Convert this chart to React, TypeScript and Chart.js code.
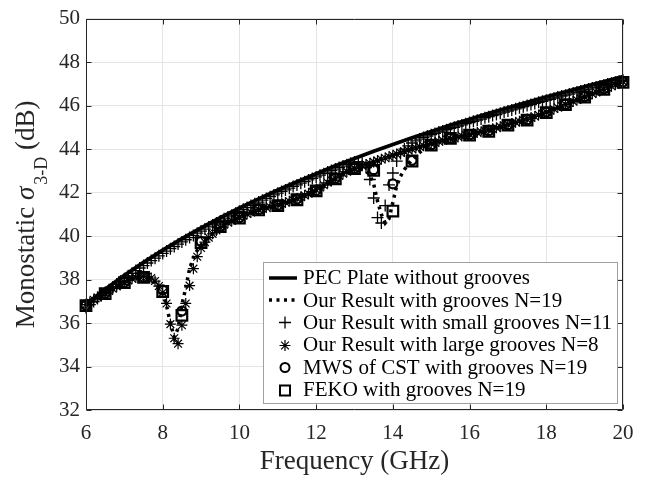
import React, { useEffect, useRef } from 'react';
import { Chart, registerables } from 'chart.js';

Chart.register(...registerables);

// ---------- data ----------
const freqCoarse = [6, 6.5, 7, 7.5, 8, 8.5, 9, 9.5, 10, 10.5, 11, 11.5, 12, 12.5, 13, 13.5, 14, 14.5, 15, 15.5, 16, 16.5, 17, 17.5, 18, 18.5, 19, 19.5, 20];

const pecPlate = [36.85, 37.55, 38.19, 38.79, 39.35, 39.88, 40.37, 40.84, 41.29, 41.71, 42.12, 42.5, 42.87, 43.23, 43.57, 43.9, 44.21, 44.52, 44.81, 45.1, 45.37, 45.64, 45.9, 46.15, 46.4, 46.63, 46.87, 47.1, 47.33];

const cstGrooves19 = [36.82, 37.37, 37.88, 38.12, 37.52, 36.55, 39.75, 40.45, 40.85, 41.22, 41.42, 41.7, 42.1, 42.66, 43.12, 43.05, 42.4, 43.48, 44.2, 44.5, 44.66, 44.84, 45.12, 45.35, 45.7, 46.06, 46.41, 46.77, 47.09];

const fekoGrooves19 = [36.8, 37.35, 37.86, 38.1, 37.45, 36.35, 39.7, 40.43, 40.83, 41.2, 41.4, 41.67, 42.08, 42.63, 43.1, 43.02, 41.15, 43.45, 44.18, 44.49, 44.64, 44.82, 45.1, 45.33, 45.68, 46.04, 46.39, 46.75, 47.07];

const freqFine = [
  6.0, 6.1, 6.2, 6.3, 6.4, 6.5, 6.6, 6.7, 6.8, 6.9,
  7.0, 7.1, 7.2, 7.3, 7.4, 7.5, 7.6, 7.7, 7.8, 7.9,
  8.0, 8.1, 8.2, 8.3, 8.4, 8.5, 8.6, 8.7, 8.8, 8.9,
  9.0, 9.1, 9.2, 9.3, 9.4, 9.5, 9.6, 9.7, 9.8, 9.9,
  10.0, 10.1, 10.2, 10.3, 10.4, 10.5, 10.6, 10.7, 10.8, 10.9,
  11.0, 11.1, 11.2, 11.3, 11.4, 11.5, 11.6, 11.7, 11.8, 11.9,
  12.0, 12.1, 12.2, 12.3, 12.4, 12.5, 12.6, 12.7, 12.8, 12.9,
  13.0, 13.1, 13.2, 13.3, 13.4, 13.5, 13.6, 13.7, 13.8, 13.9,
  14.0, 14.1, 14.2, 14.3, 14.4, 14.5, 14.6, 14.7, 14.8, 14.9,
  15.0, 15.1, 15.2, 15.3, 15.4, 15.5, 15.6, 15.7, 15.8, 15.9,
  16.0, 16.1, 16.2, 16.3, 16.4, 16.5, 16.6, 16.7, 16.8, 16.9,
  17.0, 17.1, 17.2, 17.3, 17.4, 17.5, 17.6, 17.7, 17.8, 17.9,
  18.0, 18.1, 18.2, 18.3, 18.4, 18.5, 18.6, 18.7, 18.8, 18.9,
  19.0, 19.1, 19.2, 19.3, 19.4, 19.5, 19.6, 19.7, 19.8, 19.9,
  20.0,
];

const ourGrooves19 = [
  36.8, 36.92, 37.03, 37.14, 37.25, 37.35, 37.45, 37.55, 37.66, 37.76,
  37.86, 37.94, 38.01, 38.07, 38.1, 38.1, 38.06, 37.98, 37.85, 37.68,
  37.45, 36.8, 36.0, 35.35, 35.75, 36.85, 37.6, 38.5, 39.0, 39.35,
  39.6, 39.8, 39.97, 40.12, 40.28, 40.42, 40.52, 40.6, 40.68, 40.76,
  40.83, 40.91, 40.99, 41.07, 41.14, 41.2, 41.24, 41.28, 41.32, 41.36,
  41.4, 41.45, 41.5, 41.56, 41.61, 41.67, 41.74, 41.82, 41.9, 41.99,
  42.08, 42.19, 42.3, 42.41, 42.52, 42.63, 42.74, 42.85, 42.95, 43.03,
  43.08, 43.1, 43.08, 43.0, 42.8, 42.4, 41.6, 41.0, 40.6, 40.8,
  41.55, 42.3, 42.75, 43.05, 43.3, 43.5, 43.68, 43.85, 43.98, 44.1,
  44.2, 44.27, 44.33, 44.39, 44.44, 44.48, 44.51, 44.54, 44.57, 44.6,
  44.63, 44.66, 44.7, 44.74, 44.78, 44.82, 44.87, 44.93, 44.98, 45.04,
  45.09, 45.14, 45.18, 45.23, 45.28, 45.33, 45.4, 45.47, 45.54, 45.61,
  45.68, 45.75, 45.82, 45.9, 45.97, 46.04, 46.11, 46.18, 46.25, 46.32,
  46.39, 46.46, 46.53, 46.6, 46.68, 46.75, 46.82, 46.88, 46.95, 47.01,
  47.07,
];

const smallGrooves11 = [
  36.7, 36.85, 36.99, 37.13, 37.26, 37.4, 37.53, 37.66, 37.79, 37.92,
  38.04, 38.17, 38.29, 38.41, 38.53, 38.64, 38.76, 38.87, 38.98, 39.09,
  39.2, 39.31, 39.42, 39.52, 39.63, 39.73, 39.83, 39.93, 40.03, 40.13,
  40.23, 40.32, 40.42, 40.51, 40.6, 40.69, 40.79, 40.88, 40.96, 41.05,
  41.14, 41.23, 41.31, 41.4, 41.48, 41.56, 41.65, 41.73, 41.81, 41.89,
  41.97, 42.05, 42.12, 42.2, 42.28, 42.35, 42.43, 42.5, 42.58, 42.65,
  42.72, 42.8, 42.87, 42.94, 43.01, 43.08, 43.15, 43.22, 43.28, 43.35,
  43.4, 43.42, 43.35, 43.15, 42.6, 41.75, 40.85, 40.6, 41.4, 42.35,
  42.9, 43.45, 43.8, 44.0, 44.15, 44.28, 44.38, 44.46, 44.53, 44.6,
  44.66, 44.72, 44.78, 44.83, 44.89, 44.95, 45.0, 45.06, 45.11, 45.17,
  45.22, 45.28, 45.33, 45.38, 45.44, 45.49, 45.54, 45.59, 45.65, 45.7,
  45.75, 45.8, 45.85, 45.9, 45.95, 46.0, 46.05, 46.1, 46.15, 46.2,
  46.25, 46.29, 46.34, 46.39, 46.44, 46.48, 46.53, 46.58, 46.62, 46.67,
  46.72, 46.76, 46.81, 46.85, 46.9, 46.94, 46.99, 47.03, 47.07, 47.12,
  47.16,
];

const largeGrooves8 = [
  36.85, 36.96, 37.07, 37.18, 37.28, 37.38, 37.48, 37.58, 37.68, 37.78,
  37.87, 37.96, 38.04, 38.1, 38.14, 38.15, 38.13, 38.07, 37.93, 37.7,
  37.4, 36.9, 35.95, 35.3, 35.05, 35.9, 36.9, 37.72, 38.5, 39.05,
  39.45, 39.72, 39.93, 40.1, 40.26, 40.4, 40.52, 40.62, 40.7, 40.78,
  40.86, 40.94, 41.02, 41.09, 41.16, 41.22, 41.27, 41.31, 41.35, 41.4,
  41.44, 41.49, 41.54, 41.6, 41.66, 41.72, 41.79, 41.87, 41.95, 42.04,
  42.13, 42.23, 42.34, 42.45, 42.56, 42.67, 42.77, 42.87, 42.96, 43.04,
  43.11, 43.17, 43.23, 43.29, 43.35, 43.41, 43.47, 43.53, 43.59, 43.65,
  43.71, 43.77, 43.83, 43.89, 43.95, 44.0, 44.05, 44.1, 44.15, 44.2,
  44.25, 44.3, 44.35, 44.4, 44.44, 44.48, 44.52, 44.56, 44.6, 44.64,
  44.68, 44.72, 44.76, 44.8, 44.84, 44.88, 44.93, 44.98, 45.03, 45.08,
  45.13, 45.18, 45.23, 45.28, 45.33, 45.38, 45.44, 45.5, 45.57, 45.63,
  45.7, 45.77, 45.84, 45.91, 45.98, 46.05, 46.12, 46.19, 46.26, 46.33,
  46.4, 46.47, 46.54, 46.61, 46.68, 46.75, 46.82, 46.89, 46.96, 47.03,
  47.1,
];

const xTickValues = [6, 8, 10, 12, 14, 16, 18, 20];
const yTickValues = [32, 34, 36, 38, 40, 42, 44, 46, 48, 50];

const legendLabels = [
  'PEC Plate without grooves',
  'Our Result with grooves N=19',
  'Our Result with small grooves N=11',
  'Our Result with large grooves N=8',
  'MWS of CST with grooves N=19',
  'FEKO with grooves N=19',
];

const xTitle = 'Frequency (GHz)';
const yTitleMain = 'Monostatic ';
const yTitleSymbol = 'σ';
const yTitleSub = '3-D';
const yTitleUnit = ' (dB)';

// ---------- style ----------
const SERIF = "'Liberation Serif', 'Times New Roman', serif";
const TEXT = '#262626';
const GRID = '#e4e4e4';

const pts = (xs: number[], ys: number[]) => xs.map((x, i) => ({ x, y: ys[i] }));

function drawMarker(ctx: CanvasRenderingContext2D, kind: string, x: number, y: number) {
  ctx.save();
  ctx.strokeStyle = '#000';
  ctx.setLineDash([]);
  ctx.beginPath();
  if (kind === 'plus') {
    ctx.lineWidth = 1.3;
    ctx.moveTo(x - 6, y); ctx.lineTo(x + 6, y);
    ctx.moveTo(x, y - 6); ctx.lineTo(x, y + 6);
  } else if (kind === 'star') {
    ctx.lineWidth = 1.2;
    const r = 5.5, d = r * Math.SQRT1_2;
    ctx.moveTo(x - r, y); ctx.lineTo(x + r, y);
    ctx.moveTo(x, y - r); ctx.lineTo(x, y + r);
    ctx.moveTo(x - d, y - d); ctx.lineTo(x + d, y + d);
    ctx.moveTo(x - d, y + d); ctx.lineTo(x + d, y - d);
  } else if (kind === 'circle') {
    ctx.lineWidth = 2;
    ctx.arc(x, y, 4.5, 0, Math.PI * 2);
  } else if (kind === 'square') {
    ctx.lineWidth = 2;
    ctx.rect(x - 5, y - 5, 10, 10);
  }
  ctx.stroke();
  ctx.restore();
}

const decorPlugin = {
  id: 'decor',
  afterDraw(chart: any) {
    const { ctx, chartArea: a, scales } = chart;
    ctx.save();
    // frame
    const L = Math.round(a.left) + 0.5, R = Math.round(a.right) - 0.5;
    const T = Math.round(a.top) + 0.5, B = Math.round(a.bottom) - 0.5;
    ctx.strokeStyle = TEXT;
    ctx.lineWidth = 1;
    ctx.setLineDash([]);
    ctx.beginPath();
    ctx.rect(L, T, R - L, B - T);
    const tl = 5;
    for (const v of xTickValues) {
      const px = Math.round(scales.x.getPixelForValue(v)) + 0.5;
      ctx.moveTo(px, B); ctx.lineTo(px, B - tl);
      ctx.moveTo(px, T); ctx.lineTo(px, T + tl);
    }
    for (const v of yTickValues) {
      const py = Math.round(scales.y.getPixelForValue(v)) + 0.5;
      ctx.moveTo(L, py); ctx.lineTo(L + tl, py);
      ctx.moveTo(R, py); ctx.lineTo(R - tl, py);
    }
    ctx.stroke();

    // x title
    ctx.fillStyle = TEXT;
    ctx.font = `27px ${SERIF}`;
    ctx.textAlign = 'center';
    ctx.textBaseline = 'middle';
    ctx.fillText(xTitle, (a.left + a.right) / 2, 462);

    // y title (rotated, with subscript)
    const mainFont = `27px ${SERIF}`;
    const symFont = `italic 27px ${SERIF}`;
    const subFont = `18px ${SERIF}`;
    ctx.font = mainFont; const w1 = ctx.measureText(yTitleMain).width;
    ctx.font = symFont; const w2 = ctx.measureText(yTitleSymbol).width;
    ctx.font = subFont; const w3 = ctx.measureText(yTitleSub).width;
    ctx.font = mainFont; const w4 = ctx.measureText(yTitleUnit).width;
    const gap = 2;
    const total = w1 + w2 + gap + w3 + w4;
    ctx.save();
    ctx.translate(33.5, (a.top + a.bottom) / 2);
    ctx.rotate(-Math.PI / 2);
    ctx.textAlign = 'left';
    ctx.textBaseline = 'alphabetic';
    let cx = -total / 2;
    ctx.font = mainFont; ctx.fillText(yTitleMain, cx, 0); cx += w1;
    ctx.font = symFont; ctx.fillText(yTitleSymbol, cx, 0); cx += w2 + gap;
    ctx.font = subFont; ctx.fillText(yTitleSub, cx, 13); cx += w3;
    ctx.font = mainFont; ctx.fillText(yTitleUnit, cx, 0);
    ctx.restore();

    // legend
    const lx = 263.5, ly = 262.5, lw = 354, lh = 141;
    ctx.fillStyle = '#fff';
    ctx.fillRect(lx, ly, lw, lh);
    ctx.strokeStyle = '#a0a0a0';
    ctx.lineWidth = 1;
    ctx.strokeRect(lx, ly, lw, lh);
    const kinds = ['solid', 'dotted', 'plus', 'star', 'circle', 'square'];
    ctx.font = `21px ${SERIF}`;
    ctx.textAlign = 'left';
    ctx.textBaseline = 'middle';
    legendLabels.forEach((label, i) => {
      const cy = 277.6 + i * 22.4;
      const k = kinds[i];
      if (k === 'solid' || k === 'dotted') {
        ctx.save();
        ctx.strokeStyle = '#000';
        ctx.lineWidth = 3.5;
        ctx.setLineDash(k === 'dotted' ? [3, 4.5] : []);
        ctx.beginPath();
        ctx.moveTo(269, Math.round(cy));
        ctx.lineTo(297, Math.round(cy));
        ctx.stroke();
        ctx.restore();
      } else {
        drawMarker(ctx, k, 285, Math.round(cy) + 0.5);
      }
      ctx.fillStyle = '#000';
      ctx.fillText(label, 303, cy + 1);
    });
    ctx.restore();
  },
};

export default function App() {
  const ref = useRef<HTMLCanvasElement | null>(null);

  useEffect(() => {
    if (!ref.current) return;
    const chart = new Chart(ref.current, {
      type: 'scatter',
      data: {
        datasets: [
          {
            label: legendLabels[0],
            data: pts(freqCoarse, pecPlate),
            showLine: true,
            borderColor: '#000',
            borderWidth: 3.8,
            pointRadius: 0,
            order: 6,
            clip: false,
          },
          {
            label: legendLabels[1],
            data: pts(freqFine, ourGrooves19),
            showLine: true,
            borderColor: '#000',
            borderWidth: 3.5,
            borderDash: [3, 4.5],
            pointRadius: 0,
            order: 5,
            clip: false,
          },
          {
            label: legendLabels[2],
            data: pts(freqFine, smallGrooves11),
            showLine: false,
            pointStyle: 'cross',
            pointRadius: 6,
            borderColor: '#000',
            backgroundColor: 'transparent',
            pointBorderWidth: 1.3,
            order: 4,
            clip: false,
          },
          {
            label: legendLabels[3],
            data: pts(freqFine, largeGrooves8),
            showLine: false,
            pointStyle: 'star',
            pointRadius: 5.5,
            borderColor: '#000',
            backgroundColor: 'transparent',
            pointBorderWidth: 1.2,
            order: 3,
            clip: false,
          },
          {
            label: legendLabels[4],
            data: pts(freqCoarse, cstGrooves19),
            showLine: false,
            pointStyle: 'circle',
            pointRadius: 4.5,
            borderColor: '#000',
            backgroundColor: 'transparent',
            pointBorderWidth: 2.2,
            order: 2,
            clip: false,
          },
          {
            label: legendLabels[5],
            data: pts(freqCoarse, fekoGrooves19),
            showLine: false,
            pointStyle: 'rect',
            pointRadius: 7.5,
            borderColor: '#000',
            backgroundColor: 'transparent',
            pointBorderWidth: 2.2,
            order: 1,
            clip: false,
          },
        ],
      },
      options: {
        animation: false,
        responsive: false,
        devicePixelRatio: 1,
        events: [],
        layout: { padding: { top: 16, right: 23, left: 0, bottom: 0 } },
        plugins: {
          legend: { display: false },
          tooltip: { enabled: false },
        },
        scales: {
          x: {
            type: 'linear',
            min: 6,
            max: 20,
            afterBuildTicks: (s: any) => {
              s.ticks = xTickValues.map((v) => ({ value: v }));
            },
            afterFit: (s: any) => {
              s.height = 68;
            },
            ticks: {
              font: { family: SERIF, size: 21 },
              color: TEXT,
              padding: 11,
              maxRotation: 0,
              autoSkip: false,
            },
            grid: { color: GRID, lineWidth: 1, drawTicks: false, tickLength: 0 },
            border: { display: false },
          },
          y: {
            type: 'linear',
            min: 32,
            max: 50,
            afterBuildTicks: (s: any) => {
              s.ticks = yTickValues.map((v) => ({ value: v }));
            },
            afterFit: (s: any) => {
              s.width = 86;
            },
            ticks: {
              font: { family: SERIF, size: 21 },
              color: TEXT,
              padding: 6,
              autoSkip: false,
            },
            grid: { color: GRID, lineWidth: 1, drawTicks: false, tickLength: 0 },
            border: { display: false },
          },
        },
      },
      plugins: [decorPlugin],
    } as any);
    return () => chart.destroy();
  }, []);

  return (
    <div style={{ position: 'absolute', left: 0, top: 0, width: 646, height: 478, background: '#fff' }}>
      <canvas ref={ref} width={646} height={478} style={{ display: 'block' }} />
    </div>
  );
}
